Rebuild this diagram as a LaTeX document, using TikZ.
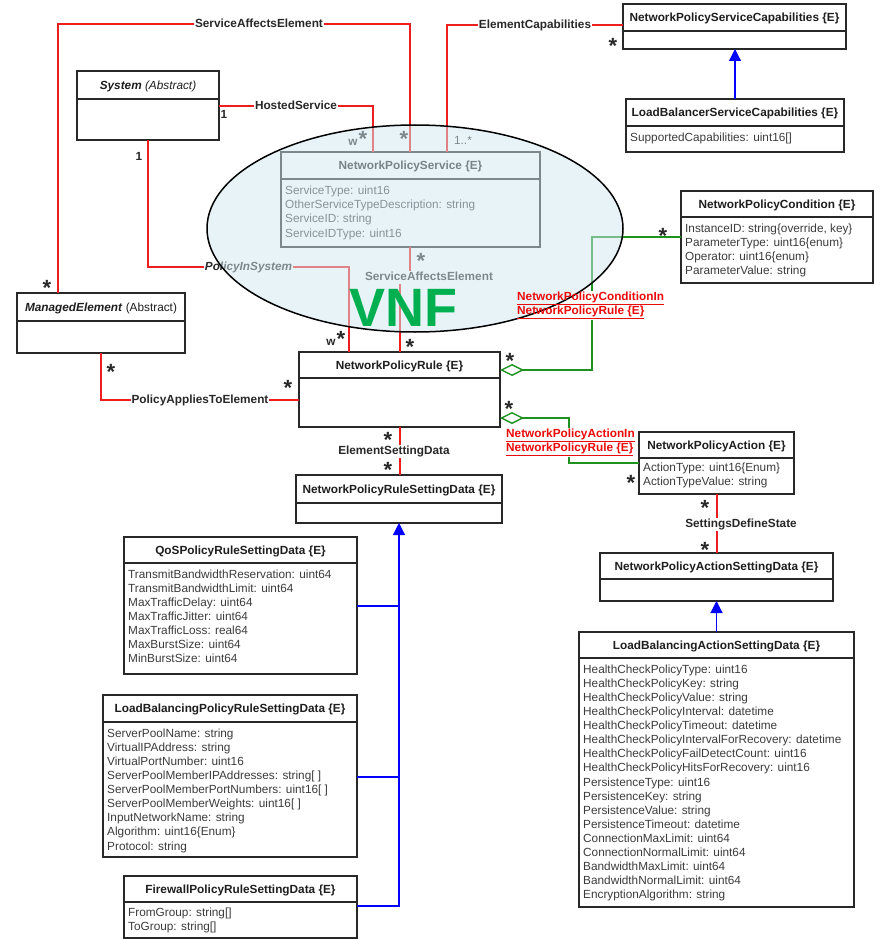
\documentclass[tikz,border=0pt]{standalone}
\usepackage{fontspec}
\setmainfont{Liberation Sans}
\usetikzlibrary{arrows.meta,shapes.geometric}
\definecolor{boxc}{RGB}{40,40,40}
\definecolor{hdrc}{RGB}{30,30,30}
\definecolor{attrc}{RGB}{60,60,60}
\definecolor{relred}{RGB}{238,30,30}
\definecolor{lblred}{RGB}{235,10,10}
\definecolor{lblc}{RGB}{40,40,40}
\definecolor{inhblue}{RGB}{0,0,255}
\definecolor{agggreen}{RGB}{30,145,30}
\definecolor{ellc}{RGB}{209,233,241}
\definecolor{vnfgreen}{RGB}{0,176,80}
\pgfdeclarelayer{bg}
\pgfdeclarelayer{ell}
\pgfsetlayers{bg,ell,main}
\newcommand\classbox[7]{%
  \node[boxsty, minimum width={(#4-#2)*1pt}, minimum height={(#6-#3)*1pt}] (#1) at ({(#2+#4)/2},{(#3+#6)/2}) {};
  \draw[divsty] (#2,#5) -- (#4,#5);
  \node[hdr] (#1-h) at ({(#2+#4)/2},{(#3+#5)/2}) {#7};
}
\begin{document}
\begin{tikzpicture}[x=1pt,y=-1pt,
  boxsty/.style={draw=boxc, line width=1.4pt, fill=white, inner sep=0pt, outer sep=0pt, rectangle},
  divsty/.style={draw=boxc, line width=1.4pt},
  hdr/.style={font=\fontsize{11.8}{13}\selectfont\bfseries, text=hdrc, inner sep=0pt, text height=8.5pt, text depth=0pt},
  attr/.style={font=\fontsize{11.8}{14.1}\selectfont, text=attrc, align=left, anchor=north west, inner sep=0pt},
  rel/.style={draw=relred, line width=1.4pt},
  lbl/.style={font=\fontsize{11.8}{13}\selectfont\bfseries, text=lblc, fill=white, inner sep=1pt, text height=8.6pt, text depth=2.4pt},
  mult/.style={font=\fontsize{22}{22}\selectfont\bfseries, text=lblc, inner sep=0pt, yshift=-4.7pt},
  mtxt/.style={font=\fontsize{11.8}{13}\selectfont\bfseries, text=lblc, inner sep=0pt},
  inhl/.style={draw=inhblue, line width=1.2pt},
  inh/.style={draw=inhblue, line width=1.2pt, -{Triangle[length=12pt,width=12pt,fill=inhblue]}},
  agg/.style={draw=agggreen, line width=1.4pt, -{Diamond[length=24pt,width=12pt,fill=white]}},
  redlbl/.style={font=\fontsize{11.8}{14}\selectfont\bfseries, text=lblred, align=left, anchor=north west, inner sep=1pt}
]
\path[use as bounding box] (0,0) rectangle (879,939);
\begin{pgfonlayer}{bg}
\fill[white] (0,0) rectangle (879,939);
% boxes
\classbox{sys}{77}{71}{219}{99}{140}{\textit{System} \textmd{\textit{(Abstract)}}}
\classbox{me}{17}{293}{185}{321}{353}{\textit{ManagedElement} \textmd{(Abstract)}}
\classbox{nps}{281}{152}{540}{179}{247}{NetworkPolicyService \{E\}}
\node[attr] (nps-a) at (285,186) {ServiceType: uint16\\OtherServiceTypeDescription: string\\ServiceID: string\\ServiceIDType: uint16};
\classbox{npsc}{623}{4}{846}{31}{49}{NetworkPolicyServiceCapabilities \{E\}}
\classbox{lbsc}{626}{99}{844}{126}{152}{LoadBalancerServiceCapabilities \{E\}}
\node[attr] (lbsc-a) at (630,132.5) {SupportedCapabilities: uint16[]};
\classbox{npc}{681}{191}{873}{217}{283}{NetworkPolicyCondition \{E\}}
\node[attr] (npc-a) at (685,223.5) {InstanceID: string\{override, key\}\\ParameterType: uint16\{enum\}\\Operator: uint16\{enum\}\\ParameterValue: string};
\classbox{npr}{299}{352}{500}{378}{427}{NetworkPolicyRule \{E\}}
\classbox{nprsd}{296}{475}{502}{503}{523}{NetworkPolicyRuleSettingData \{E\}}
\classbox{npa}{639}{432}{794}{458}{494}{NetworkPolicyAction \{E\}}
\node[attr] (npa-a) at (643,462.5) {ActionType: uint16\{Enum\}\\ActionTypeValue: string};
\classbox{npasd}{600}{553}{833}{579}{601}{NetworkPolicyActionSettingData \{E\}}
\classbox{lbasd}{579}{632}{854}{658}{907}{LoadBalancingActionSettingData \{E\}}
\node[attr] (lbasd-a) at (583,664.5) {HealthCheckPolicyType: uint16\\HealthCheckPolicyKey: string\\HealthCheckPolicyValue: string\\HealthCheckPolicyInterval: datetime\\HealthCheckPolicyTimeout: datetime\\HealthCheckPolicyIntervalForRecovery: datetime\\HealthCheckPolicyFailDetectCount: uint16\\HealthCheckPolicyHitsForRecovery: uint16\\PersistenceType: uint16\\PersistenceKey: string\\PersistenceValue: string\\PersistenceTimeout: datetime\\ConnectionMaxLimit: uint64\\ConnectionNormalLimit: uint64\\BandwidthMaxLimit: uint64\\BandwidthNormalLimit: uint64\\EncryptionAlgorithm: string};
\classbox{qos}{124}{537}{357}{563}{674}{QoSPolicyRuleSettingData \{E\}}
\node[attr] (qos-a) at (128,569.5) {TransmitBandwidthReservation: uint64\\TransmitBandwidthLimit: uint64\\MaxTrafficDelay: uint64\\MaxTrafficJitter: uint64\\MaxTrafficLoss: real64\\MaxBurstSize: uint64\\MinBurstSize: uint64};
\classbox{lbp}{103}{695}{357}{722}{857}{LoadBalancingPolicyRuleSettingData \{E\}}
\node[attr] (lbp-a) at (107,728.5) {ServerPoolName: string\\VirtualIPAddress: string\\VirtualPortNumber: uint16\\ServerPoolMemberIPAddresses: string[ ]\\ServerPoolMemberPortNumbers: uint16[ ]\\ServerPoolMemberWeights: uint16[ ]\\InputNetworkName: string\\Algorithm: uint16\{Enum\}\\Protocol: string};
\classbox{fw}{124}{876}{357}{902}{938}{FirewallPolicyRuleSettingData \{E\}}
\node[attr] (fw-a) at (128,907.5) {FromGroup: string[]\\ToGroup: string[]};
% connectors
\draw[rel] ([xshift=41pt]me.north west) -- (58,24) -- node[lbl,pos=0.571] (lsae1) {ServiceAffectsElement} (410,24) -- ([xshift=129pt]nps.north west);
\draw[rel] ([yshift=-35pt]sys.north east) -- node[lbl] (lhs) {HostedService} (373,106) -- ([xshift=92pt]nps.north west);
\draw[rel] ([xshift=166pt]nps.north west) -- (447,25) -- node[lbl] (lec) {ElementCapabilities} ([yshift=-21pt]npsc.north west);
\draw[inh] (lbsc.north) -- (lbsc.north |- npsc.south);
\draw[rel] ([xshift=71pt]sys.south west) -- (148,267) -- node[lbl] (lpis) {\textit{PolicyInSystem}} (349,267) -- ([xshift=50pt]npr.north west);
\draw[rel] ([xshift=129pt]nps.south west) -- (410,277) -- (400,277) -- ([xshift=101pt]npr.north west);
\node[lbl] (lsae2) at (429,277) {ServiceAffectsElement};
\draw[rel] ([xshift=84pt]me.south west) -- (101,400) -- node[lbl] (lpae) {PolicyAppliesToElement} ([yshift=-48pt]npr.north west);
\draw[agg] ([yshift=-46pt]npc.north west) -- (592,237) -- (592,370) -- ([yshift=-18pt]npr.north east);
\draw[agg] ([yshift=-31pt]npa.north west) -- (569,463) -- (569,418) -- ([yshift=-66pt]npr.north east);
\node[redlbl, fill=white] (lact) at (505,427.5) {\underline{NetworkPolicyActionIn}\\\underline{NetworkPolicyRule \{E\}}};
\draw[rel] ([xshift=101pt]npr.south west) -- ([xshift=104pt]nprsd.north west);
\node[lbl] (lesd) at (394,451) {ElementSettingData};
\draw[rel] ([xshift=78pt]npa.south west) -- ([xshift=117pt]npasd.north west);
\node[lbl] (lsds) at (741,524) {SettingsDefineState};
\draw[inh] (lbasd.north) -- (lbasd.north |- npasd.south);
\draw[inhl] ([yshift=-69pt]qos.north east) -- (399,606);
\draw[inhl] ([yshift=-82pt]lbp.north east) -- (399,777);
\draw[inh] ([yshift=-30pt]fw.north east) -- (399,906) -- (nprsd.south);
% multiplicities
\node[mult] (m1) at (47,283) {*};
\node[mult] (m2) at (404,134) {*};
\node[mult] (m3) at (363,134) {*};
\node[mtxt] (m3w) at (353,142) {w};
\node[mtxt] (m4) at (224,114) {1};
\node[mtxt] (m5) at (139,156) {1};
\node[mtxt, font=\fontsize{11.8}{13}\selectfont] (m6) at (463,140) {1..*};
\node[mult] (m7) at (613,41) {*};
\node[mult] (m8) at (421,256) {*};
\node[mult] (m9) at (341,334) {*};
\node[mtxt] (m9w) at (331,342) {w};
\node[mult] (m10) at (410,342) {*};
\node[mult] (m11) at (111,367) {*};
\node[mult] (m12) at (288,383) {*};
\node[mult] (m13) at (510,356) {*};
\node[mult] (m14) at (663,231) {*};
\node[mult] (m15) at (509,404) {*};
\node[mult] (m16) at (631,478) {*};
\node[mult] (m17) at (388,435) {*};
\node[mult] (m18) at (388,465) {*};
\node[mult] (m19) at (705,503.5) {*};
\node[mult] (m20) at (705,545) {*};
\end{pgfonlayer}
\begin{pgfonlayer}{ell}
\node[ellipse, draw=black, line width=1.5pt, fill=ellc, fill opacity=0.5, minimum width=416pt, minimum height=207pt, inner sep=0pt] (vnfell) at (415,228.5) {};
\end{pgfonlayer}
\node[font=\fontsize{54}{54}\selectfont\bfseries, text=vnfgreen, inner sep=0pt] (vnf) at (403,308) {VNF};
\node[redlbl] (lcond) at (516,290.5) {\underline{NetworkPolicyConditionIn}\\\underline{NetworkPolicyRule \{E\}}};
\begin{pgfonlayer}{bg}
\fill[white] (lcond.north west) rectangle (lcond.south east);
\end{pgfonlayer}
\end{tikzpicture}
\end{document}
